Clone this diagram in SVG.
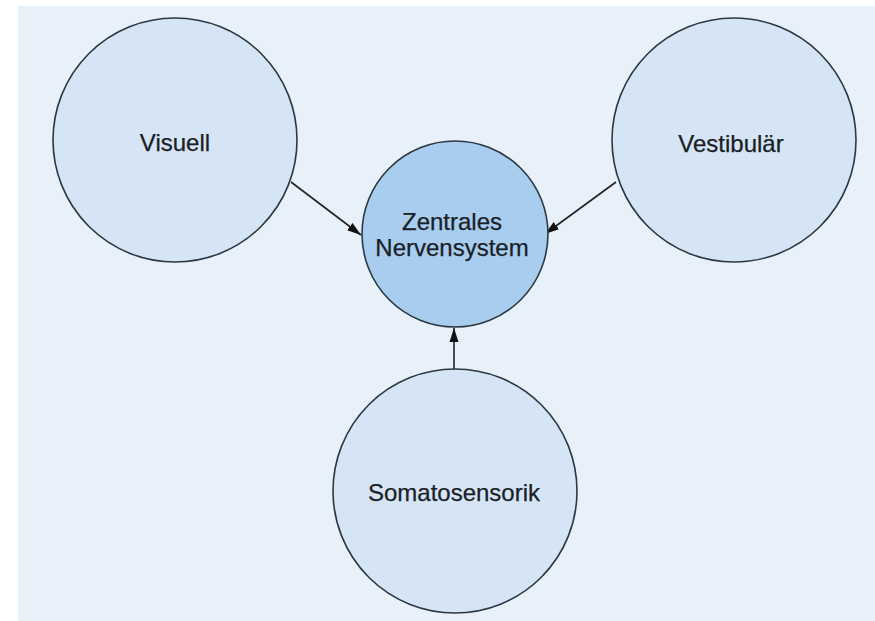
<svg xmlns="http://www.w3.org/2000/svg" width="875" height="621" viewBox="0 0 875 621">
  <defs>
    <style>
      .node { fill: #d5e5f5; stroke: #2b3842; stroke-width: 1.6; }
      .center { fill: #a9cdee; }
      .label { font-family: "Liberation Sans", Arial, sans-serif; font-size: 24px; fill: #1a2026; stroke: #1a2026; stroke-width: 0.25; text-anchor: middle; }
      .conn { stroke: #222; stroke-width: 1.6; fill: none; marker-end: url(#arrow); }
    </style>
    <marker id="arrow" viewBox="0 0 14 10" refX="14" refY="5" markerWidth="14" markerHeight="10" markerUnits="userSpaceOnUse" orient="auto">
      <path d="M0,0.5 L14,5 L0,9.5 Z" fill="#111"/>
    </marker>
  </defs>
  <rect x="0" y="0" width="875" height="621" fill="#ffffff"/>
  <rect x="18" y="6" width="857" height="615" fill="#e8f1fa"/>
  <g id="connectors">
    <line class="conn" x1="291" y1="182" x2="361" y2="235"/>
    <line class="conn" x1="616" y1="182" x2="545" y2="234"/>
    <line class="conn" x1="454" y1="370" x2="454" y2="328"/>
  </g>
  <g id="visuell">
    <circle class="node" cx="175" cy="140" r="122"/>
    <text class="label" x="175" y="151">Visuell</text>
  </g>
  <g id="vestibulaer">
    <circle class="node" cx="734" cy="140" r="122"/>
    <text class="label" x="731" y="152">Vestibulär</text>
  </g>
  <g id="zns">
    <circle class="node center" cx="455" cy="234" r="93"/>
    <text class="label" x="452" y="230">Zentrales</text>
    <text class="label" x="452" y="256">Nervensystem</text>
  </g>
  <g id="somatosensorik">
    <circle class="node" cx="455" cy="491" r="122"/>
    <text class="label" x="454" y="501">Somatosensorik</text>
  </g>
</svg>
